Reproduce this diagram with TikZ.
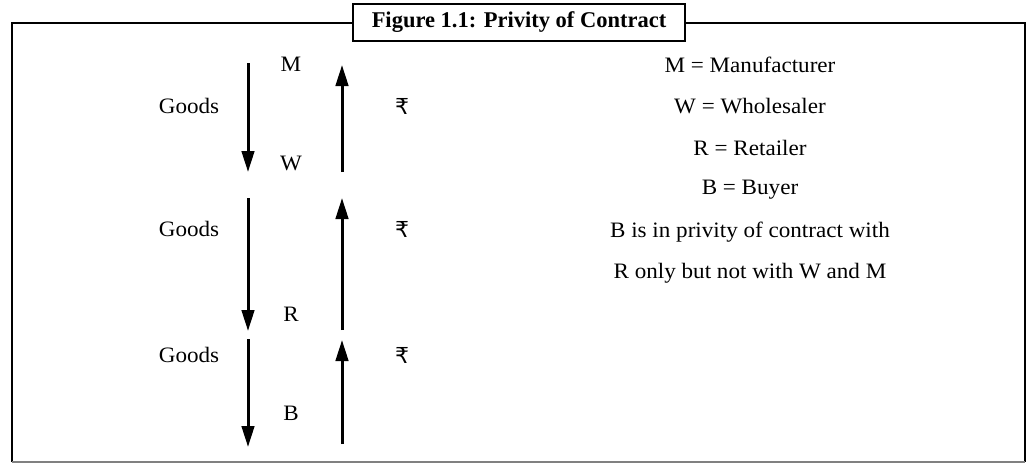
\documentclass[tikz,border=0pt]{standalone}
\usepackage{fontspec}
\setmainfont{Liberation Serif}[FakeStretch=1.05]
\newfontfamily\titlefont{Liberation Serif}
\newfontfamily\rupeefont{DejaVu Sans}
\usetikzlibrary{arrows.meta}
\begin{document}
\begin{tikzpicture}[x=1pt,y=-1pt,
  lbl/.style={inner sep=0pt,font=\fontsize{22}{26}\selectfont},
  rup/.style={inner sep=0pt,font=\rupeefont\fontsize{22}{26}\selectfont},
  flow/.style={line width=3pt,-{Triangle[length=21pt,width=12.5pt]}},
]
\useasboundingbox (0,0) rectangle (1029,463);
% frame
\draw[line width=2.8pt] (12,462) -- (12,23) -- (1025,23) -- (1025,462);
\draw[line width=2pt,gray] (12,462) -- (1025,462);
\node[draw,line width=2.2pt,fill=white,minimum width=332pt,minimum height=37pt,inner sep=0pt,
      font=\titlefont\bfseries\fontsize{22.5}{26}\selectfont] (title) at (519,22.5) {Figure 1.1: Privity of Contract};
% coordinates
\coordinate (d1s) at (248,63);  \coordinate (d1e) at (248,172);
\coordinate (u1s) at (342,172); \coordinate (u1e) at (342,65);
\coordinate (d2s) at (248,198); \coordinate (d2e) at (248,331);
\coordinate (u2s) at (342,330); \coordinate (u2e) at (342,198);
\coordinate (d3s) at (248,339); \coordinate (d3e) at (248,447);
\coordinate (u3s) at (342,444); \coordinate (u3e) at (342,340);
\draw[flow] (d1s) -- (d1e);
\draw[flow] (u1s) -- (u1e);
\draw[flow] (d2s) -- (d2e);
\draw[flow] (u2s) -- (u2e);
\draw[flow] (d3s) -- (d3e);
\draw[flow] (u3s) -- (u3e);
% labels
\node[lbl] (M) at (291,64) {M};
\node[lbl] (W) at (291,163) {W};
\node[lbl] (R) at (291,314) {R};
\node[lbl] (B) at (291,413) {B};
\node[lbl] (g1) at (189,106) {Goods};
\node[lbl] (g2) at (189,229) {Goods};
\node[lbl] (g3) at (189,355) {Goods};
\node[rup] (r1) at (402,106) {₹};
\node[rup] (r2) at (402,229) {₹};
\node[rup] (r3) at (402,355) {₹};
% legend
\node[lbl] (lm) at (750,65) {M = Manufacturer};
\node[lbl] (lw) at (750,106) {W = Wholesaler};
\node[lbl] (lr) at (750,148) {R = Retailer};
\node[lbl] (lb) at (750,190) {B = Buyer};
\node[lbl] (l1) at (750,232) {B is in privity of contract with};
\node[lbl] (l2) at (750,273) {R only but not with W and M};
\end{tikzpicture}
\end{document}
